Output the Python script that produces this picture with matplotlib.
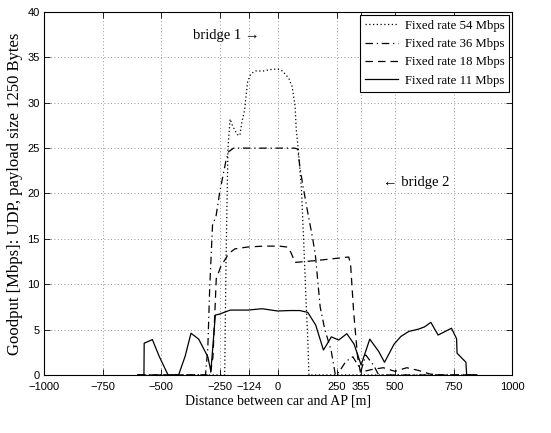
import matplotlib
matplotlib.use("Agg")
import matplotlib.pyplot as plt

# distances [m] and goodput [Mbps]
rate54_x = [-600, -228, -222, -214, -205, -195, -175, -163, -155, -143, -136, -130, -116, -96, -63, -22, 0, 19, 46, 60, 73, 78, 86, 100, 110, 120, 127, 132, 850]
rate54_y = [0, 0, 13, 25, 28.2, 27.5, 26.5, 26.4, 27.8, 29.2, 30.9, 32.3, 33.2, 33.5, 33.5, 33.7, 33.7, 33.5, 32.7, 31.8, 29.6, 27, 25, 20.5, 14.5, 8, 4, 0, 0]

rate36_x = [-600, -310, -300, -292, -280, -265, -250, -238, -222, -211, -190, 70, 84, 93, 106, 127, 147, 160, 180, 200, 227, 245, 260, 290, 320, 355, 375, 410, 430, 850]
rate36_y = [0, 0, 3, 9.6, 16.5, 17.5, 20, 21.6, 23.7, 24.6, 25, 25, 24.9, 23, 20.9, 17.9, 15.2, 13.1, 7.5, 5, 2.7, 0, 0.3, 1.5, 2, 0.5, 2.2, 1, 0, 0]

rate18_x = [-600, -290, -278, -264, -244, -210, -184, -130, -62, 5, 39, 55, 73, 113, 160, 302, 310, 323, 340, 352, 400, 450, 500, 550, 600, 650, 700, 850]
rate18_y = [0, 0, 2, 10.6, 12, 13.4, 13.9, 14.1, 14.2, 14.2, 14.1, 13.5, 12.4, 12.5, 12.6, 13, 12.2, 7, 2, 0.3, 0.6, 0.8, 0.4, 0.8, 0.5, 0.1, 0, 0]

rate11_x = [-600, -573, -572, -537, -508, -470, -425, -397, -372, -339, -300, -287, -268, -251, -204, -130, -68, -2, 50, 93, 127, 161, 194, 228, 259, 294, 325, 355, 392, 430, 455, 496, 525, 559, 600, 626, 653, 684, 741, 763, 765, 803, 806, 850]
rate11_y = [0, 0, 3.5, 3.9, 2.06, 0, 0, 2.06, 4.6, 3.95, 2.0, 0.4, 6.6, 6.7, 7.15, 7.15, 7.3, 7.05, 7.1, 7.1, 6.9, 5.5, 2.75, 4.2, 3.85, 4.55, 3.4, 1.1, 3.95, 2.6, 1.4, 3.4, 4.25, 4.8, 5.05, 5.3, 5.8, 4.4, 5.15, 4.0, 2.4, 1.4, 0, 0]

xticks = [-1000, -750, -500, -250, -124, 0, 250, 355, 500, 750, 1000]
yticks = [0, 5, 10, 15, 20, 25, 30, 35, 40]

serif = ['Liberation Serif', 'DejaVu Serif']
plt.rcParams['font.family'] = ['Liberation Sans', 'DejaVu Sans']

fig = plt.figure(figsize=(5.51, 4.33), dpi=100)
ax = fig.add_axes([0.0799, 0.134, 0.8494, 0.8383])

ax.plot(rate54_x, rate54_y, color='k', lw=0.9, linestyle=(0, (1, 2)), label='Fixed rate 54 Mbps')
ax.plot(rate36_x, rate36_y, color='k', lw=0.9, linestyle=(0, (6, 3, 1, 3)), label='Fixed rate 36 Mbps')
ax.plot(rate18_x, rate18_y, color='k', lw=0.9, linestyle=(0, (6, 4)), label='Fixed rate 18 Mbps')
ax.plot(rate11_x, rate11_y, color='k', lw=0.9, linestyle='-', label='Fixed rate 11 Mbps')

ax.set_xlim(-1000, 1000)
ax.set_ylim(0, 40)
ax.set_xticks(xticks)
ax.set_yticks(yticks)
ax.tick_params(direction='in', top=True, right=True, length=4, width=0.6, labelsize=8)
ax.tick_params(axis='x', pad=5)
ax.tick_params(axis='y', pad=3)
ax.grid(True, color='0.45', linestyle=(0, (1, 3)), lw=0.6)
for s in ax.spines.values():
    s.set_linewidth(0.8)

ax.set_xlabel('Distance between car and AP [m]', family=serif, fontsize=10, labelpad=2)
ax.set_ylabel('Goodput [Mbps]: UDP, payload size 1250 Bytes', family=serif, fontsize=12, labelpad=3)

ax.text(-363, 37.4, 'bridge 1 \u2192', family=serif, fontsize=10.5, va='center', ha='left')
ax.text(449, 21.2, '\u2190 bridge 2', family=serif, fontsize=10.5, va='center', ha='left')

leg = ax.legend(loc='upper right', prop={'family': serif, 'size': 9.2}, fancybox=False,
                edgecolor='k', framealpha=1, handlelength=2.6, borderaxespad=0.2,
                labelspacing=0.5, borderpad=0.4, handletextpad=0.5)
leg.get_frame().set_linewidth(0.8)

fig.savefig('out.png', dpi=100)
